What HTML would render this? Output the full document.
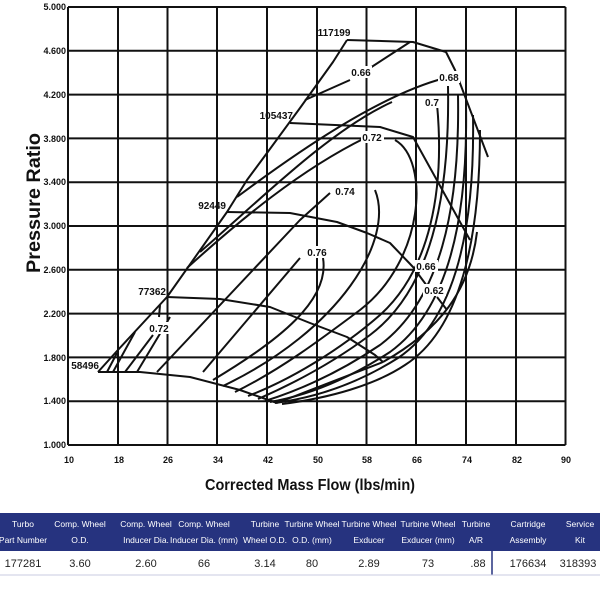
<!DOCTYPE html>
<html><head><meta charset="utf-8"><style>
html,body{margin:0;padding:0;background:#fff;width:600px;height:600px;overflow:hidden}
svg{display:block}
.t{font-family:"Liberation Sans",sans-serif}
</style></head><body>
<svg width="600" height="600" viewBox="0 0 600 600" xmlns="http://www.w3.org/2000/svg">
<rect width="600" height="600" fill="#fff"/>
<g stroke="#111" stroke-width="2">
<line x1="68" y1="7" x2="68" y2="445"/><line x1="118" y1="7" x2="118" y2="445"/><line x1="167.5" y1="7" x2="167.5" y2="445"/><line x1="217" y1="7" x2="217" y2="445"/><line x1="267" y1="7" x2="267" y2="445"/><line x1="317" y1="7" x2="317" y2="445"/><line x1="366.5" y1="7" x2="366.5" y2="445"/><line x1="416" y1="7" x2="416" y2="445"/><line x1="466" y1="7" x2="466" y2="445"/><line x1="516" y1="7" x2="516" y2="445"/><line x1="565.5" y1="7" x2="565.5" y2="445"/>
<line x1="68" y1="7" x2="565.5" y2="7"/><line x1="68" y1="50.8" x2="565.5" y2="50.8"/><line x1="68" y1="94.6" x2="565.5" y2="94.6"/><line x1="68" y1="138.4" x2="565.5" y2="138.4"/><line x1="68" y1="182.2" x2="565.5" y2="182.2"/><line x1="68" y1="226" x2="565.5" y2="226"/><line x1="68" y1="269.8" x2="565.5" y2="269.8"/><line x1="68" y1="313.6" x2="565.5" y2="313.6"/><line x1="68" y1="357.4" x2="565.5" y2="357.4"/><line x1="68" y1="401.2" x2="565.5" y2="401.2"/><line x1="68" y1="445" x2="565.5" y2="445"/>
</g>
<g fill="none" stroke="#111" stroke-width="2" stroke-linejoin="round">
<path d="M98,372 L117,351 L167,297 L227,212 L247,180 L267,153 L300,108 L333,62 L347,40"/>
<path d="M98,372 L140,372 L190,377 L240,390 L277,403"/>
<path d="M167,297 L220,299 L270,307 L310,323 L347,337 L375,355 L383,362"/>
<path d="M227,212 L290,213 L337,222 L367,233 L390,243 L413,267 L430,290"/>
<path d="M290,123 L380,127 L413,137 L470,240"/>
<path d="M347,40 L413,42 L446,52 L455,70 L488,157"/>
<path d="M277,403 L383,362"/>
<path d="M107,372 L117,353"/>
<path d="M113,372 L135,332"/>
<path d="M125,372 L153,335"/>
<path d="M137,372 L170,317"/>
<path d="M159,317 L160,305"/>
<path d="M157,372 L300,220 L330,193"/>
<path d="M203,372 L300,258"/>
<path d="M187,268 C240,220 300,170 365,138"/>
<path d="M200,252 C260,200 330,130 392,102"/>
<path d="M237,197 C300,150 380,95 445,78"/>
<path d="M305,100 L350,80"/><path d="M370,68 L410,42"/>
<path d="M323,258 C330,300 280,340 213,380"/>
<path d="M375,190 C395,240 340,330 223,386"/>
<path d="M395,140 C430,160 425,260 360,310 C320,340 280,370 235,392"/>
<path d="M437,104 C445,190 430,270 380,315 C340,350 290,380 248,396"/>
<path d="M448,86 C450,200 430,290 370,335 C330,365 290,385 258,399"/>
<path d="M458,95 C460,210 440,300 380,345 C340,372 300,390 265,401"/>
<path d="M466,105 C468,220 448,310 390,352 C350,378 310,395 270,402"/>
<path d="M473,115 C475,230 455,320 398,358 C360,382 320,397 275,403"/>
<path d="M480,130 C480,240 460,330 405,365 C375,385 330,398 282,404"/>
<path d="M477,232 C470,290 440,330 383,362"/>
<path d="M437,297 L447,310"/>
</g>
<g class="t" font-size="10" font-weight="bold" fill="#111">
<g fill="#fff" stroke="none">
<rect x="350" y="66" width="22" height="12"/><rect x="438" y="71" width="22" height="12"/><rect x="423" y="96" width="18" height="12"/><rect x="361" y="131" width="23" height="12"/><rect x="334" y="185" width="23" height="12"/><rect x="306" y="246" width="23" height="12"/><rect x="148" y="322" width="23" height="12"/><rect x="415" y="260" width="23" height="12"/><rect x="423" y="284" width="23" height="12"/>
</g>
<text x="361" y="76" text-anchor="middle">0.66</text>
<text x="449" y="81" text-anchor="middle">0.68</text>
<text x="432" y="106" text-anchor="middle">0.7</text>
<text x="372" y="141" text-anchor="middle">0.72</text>
<text x="345" y="195" text-anchor="middle">0.74</text>
<text x="317" y="256" text-anchor="middle">0.76</text>
<text x="159" y="332" text-anchor="middle">0.72</text>
<text x="426" y="270" text-anchor="middle">0.66</text>
<text x="434" y="294" text-anchor="middle">0.62</text>
<text x="334" y="36" text-anchor="middle">117199</text>
<text x="293" y="119" text-anchor="end">105437</text>
<text x="226" y="209" text-anchor="end">92449</text>
<text x="166" y="295" text-anchor="end">77362</text>
<text x="99" y="369" text-anchor="end">58496</text>
</g>
<g class="t" font-size="9" font-weight="bold" fill="#111" text-anchor="end">
<text x="66" y="10">5.000</text><text x="66" y="54">4.600</text><text x="66" y="98">4.200</text><text x="66" y="142">3.800</text><text x="66" y="185">3.400</text><text x="66" y="229">3.000</text><text x="66" y="273">2.600</text><text x="66" y="317">2.200</text><text x="66" y="361">1.800</text><text x="66" y="404">1.400</text><text x="66" y="448">1.000</text>
</g>
<g class="t" font-size="9" font-weight="bold" fill="#111" text-anchor="middle">
<text x="69" y="463">10</text><text x="119" y="463">18</text><text x="168" y="463">26</text><text x="218" y="463">34</text><text x="268" y="463">42</text><text x="318" y="463">50</text><text x="367" y="463">58</text><text x="417" y="463">66</text><text x="467" y="463">74</text><text x="517" y="463">82</text><text x="566" y="463">90</text>
</g>
<text class="t" x="310" y="490" font-size="16" font-weight="bold" text-anchor="middle" fill="#111" textLength="210" lengthAdjust="spacingAndGlyphs">Corrected Mass Flow (lbs/min)</text>
<text class="t" transform="translate(40,203) rotate(-90)" font-size="19" font-weight="bold" text-anchor="middle" fill="#111" textLength="140" lengthAdjust="spacingAndGlyphs">Pressure Ratio</text>
<rect x="0" y="513" width="600" height="38" fill="#26337f"/>
<g class="t" font-size="8.5" fill="#fff" text-anchor="middle">
<text x="23" y="527">Turbo</text><text x="23" y="543">Part Number</text>
<text x="80" y="527">Comp. Wheel</text><text x="80" y="543">O.D.</text>
<text x="146" y="527">Comp. Wheel</text><text x="146" y="543">Inducer Dia.</text>
<text x="204" y="527">Comp. Wheel</text><text x="204" y="543">Inducer Dia. (mm)</text>
<text x="265" y="527">Turbine</text><text x="265" y="543">Wheel O.D.</text>
<text x="312" y="527">Turbine Wheel</text><text x="312" y="543">O.D. (mm)</text>
<text x="369" y="527">Turbine Wheel</text><text x="369" y="543">Exducer</text>
<text x="428" y="527">Turbine Wheel</text><text x="428" y="543">Exducer (mm)</text>
<text x="476" y="527">Turbine</text><text x="476" y="543">A/R</text>
<text x="528" y="527">Cartridge</text><text x="528" y="543">Assembly</text>
<text x="580" y="527">Service</text><text x="580" y="543">Kit</text>
</g>
<g class="t" font-size="11" fill="#222" text-anchor="middle">
<text x="23" y="567">177281</text><text x="80" y="567">3.60</text><text x="146" y="567">2.60</text><text x="204" y="567">66</text><text x="265" y="567">3.14</text><text x="312" y="567">80</text><text x="369" y="567">2.89</text><text x="428" y="567">73</text><text x="478" y="567">.88</text><text x="528" y="567">176634</text><text x="578" y="567">318393</text>
</g>
<line x1="492" y1="551" x2="492" y2="575" stroke="#26337f" stroke-width="1.5"/>
<line x1="0" y1="575" x2="600" y2="575" stroke="#c8cbe0" stroke-width="1"/>
</svg>
</body></html>
